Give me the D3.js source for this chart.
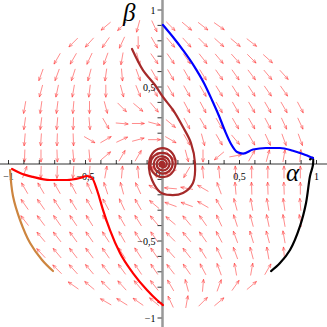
<!DOCTYPE html>
<html>
<head>
<meta charset="utf-8">
<script src="https://cdn.jsdelivr.net/npm/d3@7"></script>
<style>
  body { margin: 0; background: #fff; }
  svg { display: block; }
  .tick-label { font-family: "Liberation Serif", "DejaVu Serif", serif; font-size: 10px; }
  .axis-title { font-family: "Liberation Serif", "DejaVu Serif", serif; font-style: italic; }
</style>
</head>
<body>
<div id="chart"></div>
<script>
// grid of the direction field (20 x 20 over [-1,1])
var gridVals = [-1, -0.895, -0.789, -0.684, -0.579, -0.474, -0.368, -0.263, -0.158, -0.053,
  0.053, 0.158, 0.263, 0.368, 0.474, 0.579, 0.684, 0.789, 0.895, 1];

// arrow direction in degrees, one row per beta value (top row = beta 1), "." = no arrow
var fieldRows = [
  ". . . . . . . . . . . . . . . . . . . .",
  ". . . . . . 220 225 255 295 315 320 322 325 . . . . . .",
  ". . . . 225 228 235 245 270 300 310 312 315 318 320 322 . . . .",
  ". . . 240 240 245 250 260 285 305 305 305 308 310 312 315 318 . . .",
  ". . 250 250 252 255 262 275 290 300 300 300 302 305 305 307 310 312 . .",
  ". . 255 258 260 263 270 285 292 300 300 300 300 302 302 303 305 305 . .",
  ". 260 262 263 265 270 285 315 320 310 305 298 298 300 300 300 300 300 298 .",
  ". 262 263 265 268 275 300 355 0 345 320 298 300 300 300 300 298 295 295 .",
  ". 265 266 268 272 330 30 25 15 0 330 300 285 300 310 300 295 290 290 .",
  ". 268 270 272 275 275 40 60 60 30 315 285 270 220 10 60 75 80 85 .",
  ". 70 268 268 265 265 80 85 95 110 200 240 95 95 92 90 90 90 90 .",
  ". 120 120 120 118 115 108 105 115 150 175 170 150 110 95 92 92 92 90 .",
  ". 125 125 123 122 120 118 115 120 140 160 160 150 120 105 100 100 98 95 .",
  ". 128 127 125 124 122 120 120 122 130 140 130 125 115 108 105 102 100 100 .",
  ". . 130 128 126 125 123 120 122 125 135 130 125 118 110 107 105 100 . .",
  ". . 133 130 128 127 125 123 123 125 132 128 122 115 110 105 100 95 . .",
  ". . . 135 132 130 128 126 124 124 128 125 118 110 100 80 60 . . .",
  ". . . . 145 140 135 132 130 128 120 105 85 70 55 40 . . . .",
  ". . . . . . 150 148 145 140 115 80 45 40 . . . . . .",
  ". . . . . . . . . . . . . . . . . . . ."
];

// trajectories [alpha, beta]
var blueCurve = [[0.003, 0.903], [0.068, 0.825], [0.133, 0.740], [0.205, 0.636], [0.269, 0.526],
  [0.321, 0.416], [0.367, 0.312], [0.406, 0.214], [0.445, 0.130], [0.484, 0.078], [0.523, 0.068],
  [0.588, 0.094], [0.672, 0.104], [0.763, 0.104], [0.847, 0.086], [0.912, 0.065], [0.977, 0.039]];
var blackCurve = [[0.958, 0.030], [0.975, 0.040], [0.977, -0.006], [0.958, -0.078], [0.932, -0.253],
  [0.893, -0.403], [0.828, -0.558], [0.763, -0.643], [0.705, -0.695]];
var redCurve = [[-0.977, -0.032], [-0.925, -0.058], [-0.841, -0.084], [-0.731, -0.104], [-0.620, -0.104],
  [-0.536, -0.091], [-0.490, -0.078], [-0.458, -0.091], [-0.425, -0.169], [-0.386, -0.299],
  [-0.341, -0.429], [-0.276, -0.578], [-0.192, -0.708], [-0.101, -0.818], [-0.036, -0.883], [0.003, -0.916]];
var orangeCurve = [[-0.990, -0.039], [-0.971, -0.208], [-0.925, -0.364], [-0.860, -0.513],
  [-0.782, -0.623], [-0.711, -0.695]];
var spiralCurve = [[-0.198, 0.747], [-0.127, 0.610], [-0.049, 0.513], [0.003, 0.435], [0.068, 0.351],
  [0.133, 0.240], [0.185, 0.136], [0.211, 0.006], [0.198, -0.123], [0.133, -0.188], [0.049, -0.201],
  [-0.016, -0.182], [-0.068, -0.104], [-0.088, -0.026], [-0.075, 0.052], [-0.029, 0.097],
  [0.029, 0.097], [0.075, 0.052], [0.085, 0.0], [0.058, -0.062], [0.0, -0.085], [-0.058, -0.058],
  [-0.078, 0.0], [-0.055, 0.052], [0.0, 0.072], [0.05, 0.05], [0.066, 0.0], [0.045, -0.045],
  [0.0, -0.062], [-0.042, -0.042], [-0.057, 0.0], [-0.039, 0.039], [0.0, 0.05], [0.034, 0.034],
  [0.046, 0.0], [0.031, -0.031], [0.0, -0.042], [-0.028, -0.028], [-0.038, 0.0], [-0.026, 0.026],
  [0.0, 0.033], [0.022, 0.02], [0.028, 0.0], [0.018, -0.018], [0.0, -0.024]];

var xTicks = [-1, -0.5, 0.5, 1];
var xTickLabels = ["\u22121", "\u22120,5", "0,5", "1"];
var yTicks = [1, 0.5, -0.5, -1];
var yTickLabels = ["1", "0,5", "\u22120,5", "\u22121"];
var minorTicks = [-1, -0.9, -0.8, -0.7, -0.6, -0.5, -0.4, -0.3, -0.2, -0.1, 0.1, 0.2, 0.3, 0.4, 0.5, 0.6, 0.7, 0.8, 0.9, 1];

var width = 327, height = 327;
var x = d3.scaleLinear().domain([-1, 1]).range([8.5, 316.5]);
var y = d3.scaleLinear().domain([-1, 1]).range([318, 10]);

var svg = d3.select("#chart").append("svg")
  .attr("width", width)
  .attr("height", height);

// direction field
var arrows = [];
fieldRows.forEach(function (row, j) {
  row.trim().split(/\s+/).forEach(function (v, i) {
    if (v !== ".") arrows.push({ a: gridVals[i], b: gridVals[19 - j], ang: +v });
  });
});

var L = 12.5, H = 4;
svg.append("g")
  .selectAll("path")
  .data(arrows)
  .join("path")
  .attr("d", function (d) {
    var t = d.ang * Math.PI / 180;
    var dx = Math.cos(t), dy = -Math.sin(t);
    var cx = x(d.a), cy = y(d.b);
    var x0 = cx - dx * L / 2, y0 = cy - dy * L / 2;
    var x1 = cx + dx * L / 2, y1 = cy + dy * L / 2;
    var h1 = t + Math.PI - 0.38, h2 = t + Math.PI + 0.38;
    return "M" + x0 + "," + y0 + "L" + x1 + "," + y1 +
      "M" + (x1 + Math.cos(h1) * H) + "," + (y1 - Math.sin(h1) * H) +
      "L" + x1 + "," + y1 +
      "L" + (x1 + Math.cos(h2) * H) + "," + (y1 - Math.sin(h2) * H);
  })
  .attr("fill", "none")
  .attr("stroke", "#ff3030")
  .attr("stroke-opacity", 0.7)
  .attr("stroke-width", 0.8);

// axes
svg.append("line")
  .attr("x1", 0).attr("x2", width)
  .attr("y1", y(0)).attr("y2", y(0))
  .attr("stroke", "#333").attr("stroke-width", 1.2);
svg.append("line")
  .attr("x1", x(0)).attr("x2", x(0))
  .attr("y1", 0).attr("y2", height)
  .attr("stroke", "#999").attr("stroke-width", 2.5);

svg.append("g").selectAll("line")
  .data(minorTicks)
  .join("line")
  .attr("x1", function (d) { return x(d); })
  .attr("x2", function (d) { return x(d); })
  .attr("y1", y(0)).attr("y2", y(0) - 4)
  .attr("stroke", "#000").attr("stroke-width", 0.8);
svg.append("g").selectAll("line")
  .data(minorTicks)
  .join("line")
  .attr("y1", function (d) { return y(d); })
  .attr("y2", function (d) { return y(d); })
  .attr("x1", x(0) - 1).attr("x2", x(0) - 5)
  .attr("stroke", "#000").attr("stroke-width", 0.8);

svg.append("g").selectAll("text")
  .data(xTicks)
  .join("text")
  .attr("class", "tick-label")
  .attr("x", function (d) { return x(d); })
  .attr("y", y(0) + 16)
  .attr("text-anchor", "middle")
  .text(function (d, i) { return xTickLabels[i]; });
svg.append("g").selectAll("text")
  .data(yTicks)
  .join("text")
  .attr("class", "tick-label")
  .attr("x", x(0) - 7)
  .attr("y", function (d) { return y(d) + 3.5; })
  .attr("text-anchor", "end")
  .text(function (d, i) { return yTickLabels[i]; });
svg.append("text")
  .attr("class", "tick-label")
  .attr("x", x(0) - 2).attr("y", y(0) + 13)
  .attr("text-anchor", "end")
  .text("0");

svg.append("text")
  .attr("class", "axis-title")
  .attr("x", 123).attr("y", 21)
  .attr("font-size", 25)
  .text("\u03b2");
svg.append("text")
  .attr("class", "axis-title")
  .attr("x", 286).attr("y", 181)
  .attr("font-size", 25)
  .text("\u03b1");

// trajectories
var lineCR = d3.line()
  .x(function (d) { return x(d[0]); })
  .y(function (d) { return y(d[1]); })
  .curve(d3.curveCatmullRom.alpha(0.5));
var lineMono = d3.line()
  .x(function (d) { return x(d[0]); })
  .y(function (d) { return y(d[1]); })
  .curve(d3.curveMonotoneX);

var curves = [
  { pts: orangeCurve, color: "#cd853f", gen: lineCR },
  { pts: redCurve, color: "#ff0000", gen: lineMono },
  { pts: blackCurve, color: "#000000", gen: lineCR },
  { pts: blueCurve, color: "#0000ff", gen: lineMono },
  { pts: spiralCurve, color: "#a52a2a", gen: lineCR }
];
svg.append("g").selectAll("path")
  .data(curves)
  .join("path")
  .attr("d", function (d) { return d.gen(d.pts); })
  .attr("fill", "none")
  .attr("stroke", function (d) { return d.color; })
  .attr("stroke-width", 2.2)
  .attr("stroke-linejoin", "round")
  .attr("stroke-linecap", "round");

svg.append("circle")
  .attr("cx", x(-0.004)).attr("cy", y(-0.002))
  .attr("r", 3.5)
  .attr("fill", "#a52a2a");
</script>
</body>
</html>
